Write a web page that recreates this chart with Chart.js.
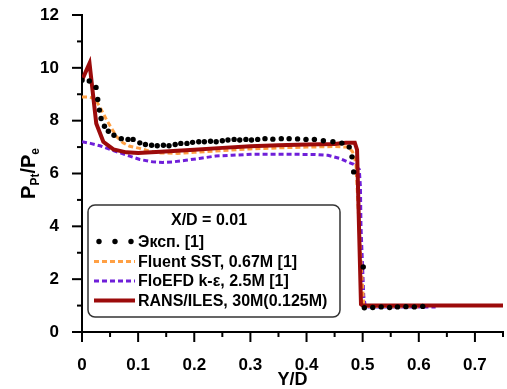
<!DOCTYPE html>
<html>
<head>
<meta charset="utf-8">
<script src="https://cdn.jsdelivr.net/npm/chart.js@4"></script>
<style>
  html, body { margin: 0; padding: 0; background: #fff; }
</style>
</head>
<body>
<canvas id="myChart" width="507" height="389"></canvas>
<script>
// total pressure profiles across the jet, X/D = 0.01
const expY = [0, 0.013, 0.025, 0.028, 0.031, 0.034, 0.04, 0.047, 0.057, 0.07, 0.082, 0.091,
  0.103, 0.113, 0.124, 0.134, 0.145, 0.155, 0.166, 0.176, 0.187, 0.197, 0.208, 0.218, 0.229,
  0.239, 0.25, 0.26, 0.271, 0.281, 0.292, 0.302, 0.313, 0.326, 0.34, 0.355, 0.369, 0.384,
  0.399, 0.414, 0.43, 0.447, 0.463, 0.476, 0.481, 0.484, 0.501, 0.503, 0.518, 0.533, 0.548,
  0.562, 0.577, 0.592, 0.607];
const expP = [9.53, 9.5, 9.26, 8.8, 8.4, 8.08, 7.79, 7.6, 7.45, 7.32, 7.29, 7.29,
  7.16, 7.1, 7.07, 7.05, 7.07, 7.05, 7.1, 7.14, 7.14, 7.18, 7.2, 7.2, 7.22,
  7.2, 7.24, 7.27, 7.29, 7.27, 7.29, 7.27, 7.29, 7.32, 7.3, 7.32, 7.32, 7.31,
  7.29, 7.29, 7.24, 7.2, 7.15, 7.0, 6.63, 6.06, 2.46, 0.92, 0.93, 0.95, 0.93,
  0.95, 0.96, 0.95, 0.97];

const fluentY = [0, 0.01, 0.023, 0.031, 0.038, 0.044, 0.053, 0.062, 0.073, 0.085, 0.103, 0.12,
  0.14, 0.17, 0.2, 0.25, 0.3, 0.35, 0.4, 0.45, 0.475, 0.482, 0.488, 0.496, 0.502, 0.55, 0.6];
const fluentP = [8.9, 8.9, 8.84, 8.55, 8.27, 8.02, 7.7, 7.39, 7.16, 7.03, 6.95, 6.85,
  6.78, 6.76, 6.8, 6.87, 6.93, 6.97, 7.0, 7.02, 7.0, 6.82, 6.4, 3.0, 0.98, 0.96, 0.95];

const floefdY = [0, 0.015, 0.032, 0.05, 0.068, 0.085, 0.103, 0.126, 0.144, 0.162, 0.185, 0.209,
  0.238, 0.267, 0.303, 0.356, 0.414, 0.438, 0.459, 0.473, 0.484, 0.494, 0.496, 0.497, 0.502,
  0.505, 0.56, 0.63];
const floefdP = [7.2, 7.14, 7.05, 6.91, 6.78, 6.66, 6.53, 6.44, 6.42, 6.44, 6.5, 6.57,
  6.66, 6.69, 6.73, 6.73, 6.72, 6.69, 6.57, 6.44, 6.35, 6.15, 5.5, 4.0, 1.33,
  0.95, 0.95, 0.95];

const ransY = [0, 0.0134, 0.0254, 0.038, 0.056, 0.079, 0.1, 0.14, 0.2, 0.25, 0.3, 0.35, 0.4,
  0.45, 0.47, 0.486, 0.49, 0.497, 0.5, 0.75];
const ransP = [9.53, 10.17, 7.89, 7.2, 6.91, 6.8, 6.78, 6.82, 6.9, 6.97, 7.03, 7.07, 7.1,
  7.12, 7.16, 7.16, 6.9, 1.05, 1.0, 1.0];

const legendTitle = 'X/D = 0.01';
const seriesNames = ['Эксп. [1]', 'Fluent SST, 0.67M [1]', 'FloEFD k-ε, 2.5M [1]', 'RANS/ILES, 30M(0.125M)'];

const xTicksMajor = [0, 0.1, 0.2, 0.3, 0.4, 0.5, 0.6, 0.7];
const yTicksMajor = [0, 2, 4, 6, 8, 10, 12];

function pts(xs, ys) {
  return xs.map((x, i) => ({ x: x, y: ys[i] }));
}

const FONT = "'Liberation Sans', Arial, sans-serif";
Chart.defaults.font.family = FONT;
Chart.defaults.color = '#000';

// minor/major tick marks, the y title with subscripts and the framed legend
const decor = {
  id: 'decor',
  afterDraw(chart) {
    const ctx = chart.ctx;
    const xs = chart.scales.x, ys = chart.scales.y;
    const area = chart.chartArea;
    ctx.save();
    ctx.strokeStyle = '#000';
    ctx.lineWidth = 2;
    xs.ticks.forEach(t => {
      const px = xs.getPixelForValue(t.value);
      const major = xTicksMajor.some(v => Math.abs(v - t.value) < 1e-6);
      ctx.beginPath();
      ctx.moveTo(px, area.bottom);
      ctx.lineTo(px, area.bottom + (major ? 10 : 5));
      ctx.stroke();
    });
    ys.ticks.forEach(t => {
      const py = ys.getPixelForValue(t.value);
      const major = yTicksMajor.includes(t.value);
      ctx.beginPath();
      ctx.moveTo(area.left, py);
      ctx.lineTo(area.left - (major ? 10 : 5), py);
      ctx.stroke();
    });

    // P_Pt / P_e
    const parts = [
      { t: 'P', s: 20, dy: 0 }, { t: 'Pt', s: 12, dy: 4 },
      { t: '/', s: 20, dy: 0 }, { t: 'P', s: 20, dy: 0 }, { t: 'e', s: 12, dy: 4 }
    ];
    ctx.translate(35, (area.top + area.bottom) / 2);
    ctx.rotate(-Math.PI / 2);
    ctx.fillStyle = '#000';
    ctx.textBaseline = 'alphabetic';
    ctx.textAlign = 'left';
    let total = 0;
    parts.forEach(p => { ctx.font = 'bold ' + p.s + 'px ' + FONT; p.w = ctx.measureText(p.t).width; total += p.w; });
    let cx = -total / 2;
    parts.forEach(p => { ctx.font = 'bold ' + p.s + 'px ' + FONT; ctx.fillText(p.t, cx, p.dy); cx += p.w; });
    ctx.restore();

    // legend box
    ctx.save();
    const bx = 88, by = 205, bw = 252, bh = 112;
    ctx.beginPath();
    ctx.roundRect(bx, by, bw, bh, 7);
    ctx.fillStyle = '#fff';
    ctx.fill();
    ctx.strokeStyle = '#333';
    ctx.lineWidth = 1.5;
    ctx.stroke();
    ctx.fillStyle = '#000';
    ctx.font = 'bold 16px ' + FONT;
    ctx.textBaseline = 'middle';
    ctx.textAlign = 'center';
    ctx.fillText(legendTitle, 209, 221);
    ctx.textAlign = 'left';
    const rows = [241.5, 261.5, 281, 300.5];
    chart.data.datasets.forEach((ds, r) => {
      const y = rows[r];
      if (!ds.showLine) {
        ctx.fillStyle = ds.pointBackgroundColor;
        [99, 115, 131].forEach(x => { ctx.beginPath(); ctx.arc(x, y, 2.7, 0, Math.PI * 2); ctx.fill(); });
      } else {
        ctx.strokeStyle = ds.borderColor;
        ctx.lineWidth = ds.borderWidth;
        ctx.setLineDash(ds.borderDash || []);
        ctx.beginPath();
        ctx.moveTo(94, y);
        ctx.lineTo(135, y);
        ctx.stroke();
        ctx.setLineDash([]);
      }
      ctx.fillStyle = '#000';
      ctx.fillText(ds.label, 138, y + 1);
    });
    ctx.restore();
  }
};

const ctx = document.getElementById('myChart').getContext('2d');
const chart = new Chart(ctx, {
  type: 'scatter',
  data: {
    datasets: [{
      label: seriesNames[0],
      data: pts(expY, expP),
      showLine: false,
      pointRadius: 2.7,
      pointBackgroundColor: '#000',
      pointBorderWidth: 0,
      order: 0
    }, {
      label: seriesNames[1],
      data: pts(fluentY, fluentP),
      showLine: true,
      borderColor: '#ffa044',
      borderWidth: 3,
      borderDash: [5, 3],
      pointRadius: 0,
      order: 2
    }, {
      label: seriesNames[2],
      data: pts(floefdY, floefdP),
      showLine: true,
      borderColor: '#6f1fd9',
      borderWidth: 3,
      borderDash: [5, 3],
      pointRadius: 0,
      order: 3
    }, {
      label: seriesNames[3],
      data: pts(ransY, ransP),
      showLine: true,
      borderColor: '#9c0b0b',
      borderWidth: 4,
      pointRadius: 0,
      order: 1
    }]
  },
  options: {
    responsive: false,
    animation: false,
    layout: { padding: { top: 15, right: 2, left: 0, bottom: 0 } },
    plugins: { legend: { display: false }, tooltip: { enabled: false } },
    scales: {
      x: {
        type: 'linear',
        min: 0,
        max: 0.75,
        afterFit(s) { s.height = 57; s.paddingLeft = 0; s.paddingRight = 0; },
        grid: { display: false },
        border: { display: true, color: '#000', width: 2 },
        ticks: {
          stepSize: 0.05,
          autoSkip: false,
          maxRotation: 0,
          padding: 15,
          font: { size: 17, weight: 'bold' },
          callback(v) {
            const m = xTicksMajor.find(t => Math.abs(t - v) < 1e-6);
            return m === undefined ? '' : String(m);
          }
        },
        title: {
          display: true,
          text: 'Y/D',
          font: { size: 18, weight: 'bold', lineHeight: 1 },
          padding: { top: 0, bottom: 0 }
        }
      },
      y: {
        min: 0,
        max: 12,
        afterFit(s) { s.width = 82; s.paddingTop = 0; s.paddingBottom = 0; },
        grid: { display: false },
        border: { display: true, color: '#000', width: 2 },
        ticks: {
          stepSize: 1,
          autoSkip: false,
          padding: 15,
          font: { size: 17, weight: 'bold' },
          callback(v) { return yTicksMajor.includes(v) ? String(v) : ''; }
        }
      }
    }
  },
  plugins: [decor]
});
</script>
</body>
</html>
